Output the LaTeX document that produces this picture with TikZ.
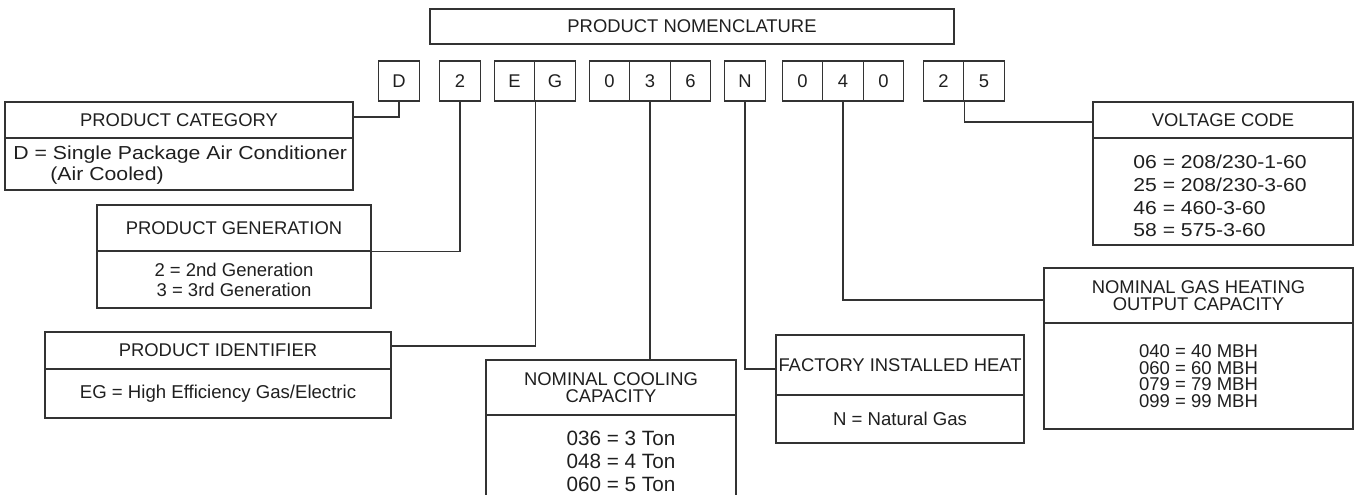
\documentclass[tikz,border=0pt]{standalone}
\usepackage{fontspec}
\setmainfont{Liberation Sans}
\newfontfamily\widefont[FakeStretch=1.13]{Liberation Sans}
\begin{document}
\begin{tikzpicture}[x=0.5pt,y=-0.5pt,
  ln/.style={draw=black!80, line width=0.6pt},
  box/.style={ln, rectangle, inner sep=0pt, text=black!88, align=center},
  code/.style={box, minimum width=20.25pt, minimum height=20pt, font=\fontsize{9.2}{11}\selectfont},
  ttl/.style={font=\fontsize{9.2}{8.35}\selectfont},
  txt/.style={inner sep=0pt, text=black!88}]
\useasboundingbox (0,0) rectangle (1354,494);
\clip (0,0) rectangle (1354,494);

% title
\node[box, minimum width=262pt, minimum height=17.5pt, ttl] (title) at (692,26.5) {PRODUCT NOMENCLATURE};

% code boxes
\node[code] (cD)  at (399,81)   {D};
\node[code] (c2)  at (460,81)   {2};
\node[code] (cE)  at (514.5,81) {E};
\node[code] (cG)  at (555,81)   {G};
\node[code] (c0a) at (609.5,81) {0};
\node[code] (c3)  at (650,81)   {3};
\node[code] (c6)  at (690.5,81) {6};
\node[code] (cN)  at (745,81)   {N};
\node[code] (c0b) at (802.5,81) {0};
\node[code] (c4)  at (843,81)   {4};
\node[code] (c0c) at (883.5,81) {0};
\node[code] (c2b) at (943.5,81) {2};
\node[code] (c5)  at (984,81)   {5};

% product category
\node[box, minimum width=174pt, minimum height=18pt, ttl] (cattitle) at (179,120) {PRODUCT CATEGORY};
\node[box, minimum width=174pt, minimum height=26pt] (catbody) at (179,164) {};
\node[txt, anchor=west, align=left, font=\widefont\fontsize{9.4}{10.5}\selectfont] (cattext) at (13,165.5)
  {D = Single Package Air Conditioner\\\hspace*{18.5pt}(Air Cooled)};

% product generation
\node[box, minimum width=137pt, minimum height=23pt, ttl] (gentitle) at (234,228) {PRODUCT GENERATION};
\node[box, minimum width=137pt, minimum height=28.5pt, font=\fontsize{9.25}{10}\selectfont] (genbody) at (234,279.5)
  {2 = 2nd Generation\\3 = 3rd Generation};

% product identifier
\node[box, minimum width=173pt, minimum height=18.5pt, ttl] (idtitle) at (218,350.5) {PRODUCT IDENTIFIER};
\node[box, minimum width=173pt, minimum height=24.5pt, font=\fontsize{9.3}{11}\selectfont] (idbody) at (218,393.5)
  {EG = High Efficiency Gas/Electric};

% nominal cooling capacity
\node[box, minimum width=125pt, minimum height=27.5pt, ttl] (cooltitle) at (611,387.5) {NOMINAL COOLING\\CAPACITY};
\node[box, minimum width=125pt, minimum height=47.5pt] (coolbody) at (611,462.5) {};
\node[txt, align=center, font=\fontsize{10.35}{11.5}\selectfont] (cooltext) at (621,461)
  {036 = 3 Ton\\048 = 4 Ton\\060 = 5 Ton};

% factory installed heat
\node[box, minimum width=124pt, minimum height=30pt, ttl] (factitle) at (900,365) {FACTORY INSTALLED HEAT};
\node[box, minimum width=124pt, minimum height=24pt, font=\fontsize{9.3}{11}\selectfont] (facbody) at (900,419) {N = Natural Gas};

% nominal gas heating
\node[box, minimum width=154.5pt, minimum height=27.5pt, ttl] (gastitle) at (1198.5,295.5) {NOMINAL GAS HEATING\\OUTPUT CAPACITY};
\node[box, minimum width=154.5pt, minimum height=53pt, font=\fontsize{9.25}{8.35}\selectfont] (gasbody) at (1198.5,376)
  {040 = 40 MBH\\060 = 60 MBH\\079 = 79 MBH\\099 = 99 MBH};

% voltage code
\node[box, minimum width=130pt, minimum height=18pt, ttl] (volttitle) at (1223,120) {VOLTAGE CODE};
\node[box, minimum width=130pt, minimum height=53.5pt] (voltbody) at (1223,191.5) {};
\node[txt, anchor=west, align=left, font=\widefont\fontsize{9.35}{11.35}\selectfont] (volttext) at (1133,196)
  {06 = 208/230-1-60\\25 = 208/230-3-60\\46 = 460-3-60\\58 = 575-3-60};

% connectors
\draw[ln] (cD.south) |- ([yshift=1.5pt]cattitle.east);
\draw[ln] (c2.south) |- (gentitle.south east);
\draw[ln] (cE.south east) |- ([yshift=2.25pt]idtitle.east);
\draw[ln] (c3.south) -- (c3.south |- cooltitle.north);
\draw[ln] (cN.south) |- ([yshift=-2pt]factitle.west);
\draw[ln] (c4.south) |- ([yshift=-2.25pt]gastitle.west);
\draw[ln] (c2b.south east) |- ([yshift=-1pt]volttitle.west);
\end{tikzpicture}
\end{document}
